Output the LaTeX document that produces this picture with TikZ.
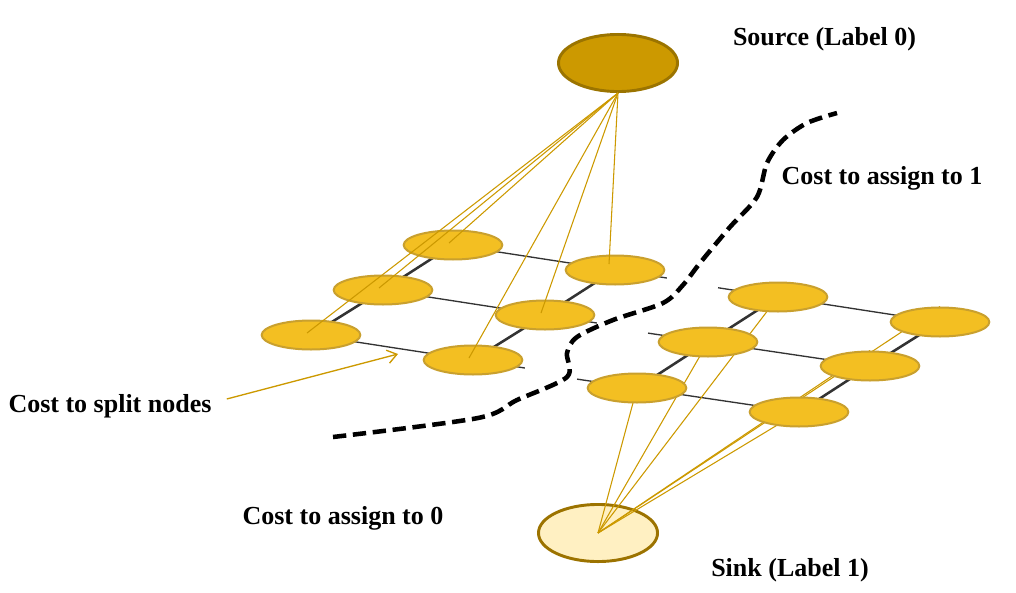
\documentclass[tikz,border=0pt]{standalone}
\usepackage{fontspec}
\setmainfont{Liberation Serif}
\definecolor{sourcegold}{RGB}{204,153,0}
\definecolor{sourceedge}{RGB}{155,116,0}
\definecolor{pixelgold}{RGB}{243,191,34}
\definecolor{pixeledge}{RGB}{201,160,46}
\definecolor{sinkcream}{RGB}{255,240,194}
\definecolor{sinkedge}{RGB}{156,115,0}
\definecolor{gridgray}{RGB}{51,51,51}
\usetikzlibrary{positioning,shapes,arrows.meta,calc}
\pgfdeclarelayer{bottom}
\pgfdeclarelayer{edges}
\pgfsetlayers{bottom,edges,main}

\begin{document}
\begin{tikzpicture}[x=0.75pt,y=-0.75pt,
    pixel/.style={ellipse,draw=pixeledge,line width=1.5pt,fill=pixelgold,minimum width=74pt,minimum height=21.75pt,inner sep=0pt},
    terminal/.style={ellipse,line width=2.2pt,minimum width=89.3pt,minimum height=42.8pt,inner sep=0pt},
    link/.style={line width=1.9pt,gridgray},
    hlink/.style={line width=1pt,gridgray},
    tlink/.style={line width=0.8pt,sourcegold},
    pointer/.style={-{Straight Barb[length=7pt,width=10pt]},line width=1pt,sourcegold},
    cut/.style={line width=3.4pt,dash pattern=on 10pt off 5pt,line join=round},
    cost/.style={font=\fontsize{19.5}{23}\selectfont\bfseries,inner sep=0pt}
]
    \useasboundingbox (0,0) rectangle (1016,592);

    % source and sink
    \node[terminal,draw=sourceedge,fill=sourcegold] (src) at (618,63) {};
    \begin{pgfonlayer}{bottom}
        \node[terminal,draw=sinkedge,fill=sinkcream] (sink) at (598,533) {};
    \end{pgfonlayer}

    % left grid (label 0 side)
    \node[pixel] (L1) at (453,245) {};
    \node[pixel] (L2) at (383,290) {};
    \node[pixel] (L3) at (311,335) {};
    \node[pixel] (L4) at (615,270) {};
    \node[pixel] (L5) at (545,315) {};
    \node[pixel] (L6) at (473,360) {};

    % right grid (label 1 side)
    \node[pixel] (R1) at (778,297) {};
    \node[pixel] (R2) at (708,342) {};
    \node[pixel] (R3) at (637,388) {};
    \node[pixel] (R4) at (940,322) {};
    \node[pixel] (R5) at (870,366) {};
    \node[pixel] (R6) at (799,412) {};

    \begin{pgfonlayer}{edges}
        \draw[link] (L1.center) -- (L2.center) -- (L3.center);
        \draw[link] (L4.center) -- (L5.center) -- (L6.center);
        \draw[hlink] (L1.center) -- ($(L1)!1.32!(L4)$);
        \draw[hlink] (L2.center) -- ($(L2)!1.32!(L5)$);
        \draw[hlink] (L3.center) -- ($(L3)!1.32!(L6)$);

        \draw[link] (R1.center) -- (R2.center) -- (R3.center);
        \draw[link] (R4.center) -- (R5.center) -- (R6.center);
        \draw[hlink] ($(R1)!-0.37!(R4)$) -- (R4.center);
        \draw[hlink] ($(R2)!-0.37!(R5)$) -- (R5.center);
        \draw[hlink] ($(R3)!-0.37!(R6)$) -- (R6.center);

        % t-links to the sink
        \draw[tlink] (sink.center) -- (R1.center);
        \draw[tlink] (sink.center) -- (R2.center);
        \draw[tlink] (sink.center) -- (R3.center);
        \draw[tlink] (sink.center) -- (R4.north);
        \draw[tlink] (sink.center) -- (R5.north);
        \draw[tlink] (sink.center) -- (R6.center);
    \end{pgfonlayer}

    % t-links from the source
    \foreach \n in {L1,L2,L3,L5,L6}
        \draw[tlink] (src.south) -- ([shift={(-4,-2)}]\n.center);
    \draw[tlink] (src.south) -- ([shift={(-6,-6)}]L4.center);

    % the cut
    \draw[cut] plot[smooth,tension=0.5] coordinates {(333,437) (478,418) (517,400) (567,377) (567,353) (577,337) (613,320) (663,303) (683,285) (700,263) (730,227) (757,197) (767,163) (783,140) (807,123) (837,113)};

    % labels
    \node[cost] (srctxt) at (824.5,39) {Source (Label 0)};
    \node[cost] (onetxt) at (882,178) {Cost to assign to 1};
    \node[cost] (splittxt) at (110,406) {Cost to split nodes};
    \node[cost] (zerotxt) at (343,518) {Cost to assign to 0};
    \node[cost] (sinktxt) at (790,570) {Sink (Label 1)};

    \coordinate (splitpt) at (398,354);
    \draw[pointer] ($(splittxt.east)+(15,-7)$) -- (splitpt);
\end{tikzpicture}
\end{document}
